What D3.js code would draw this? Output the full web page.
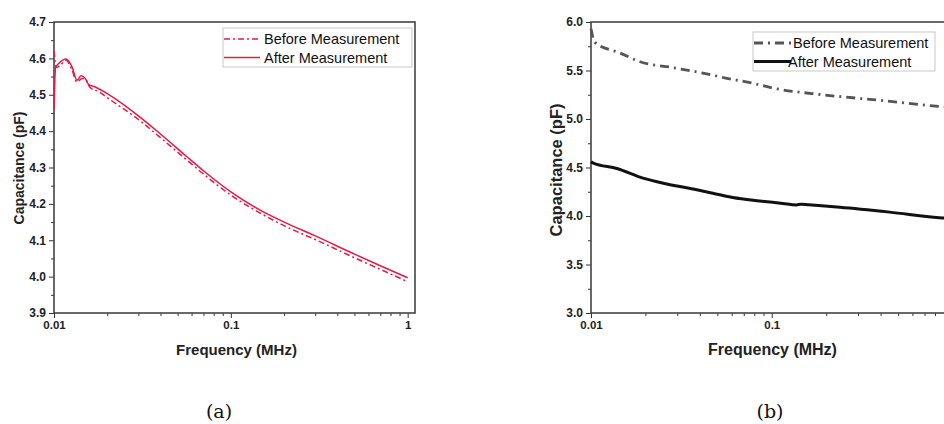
<!DOCTYPE html>
<html>
<head>
<meta charset="utf-8">
<script src="https://cdn.jsdelivr.net/npm/d3@7"></script>
<style>
  body { margin: 0; background: #fff; }
  svg { display: block; }
</style>
</head>
<body>
<div id="container"></div>
<script>
let w = 944;
let h = 424;

// DATA - panel (a)
let freqBeforeA = [0.01, 0.0103, 0.0108, 0.0117, 0.0126, 0.0135, 0.0144, 0.0152, 0.016, 0.018, 0.02, 0.03, 0.04, 0.056, 0.07, 0.1, 0.15, 0.2, 0.3, 0.5, 0.7, 1.0];
let capBeforeA  = [4.62, 4.575, 4.58, 4.595, 4.57, 4.535, 4.545, 4.54, 4.52, 4.508, 4.492, 4.432, 4.382, 4.322, 4.282, 4.224, 4.172, 4.14, 4.102, 4.052, 4.02, 3.986];
let freqAfterA  = [0.01, 0.0102, 0.0106, 0.0117, 0.0126, 0.0135, 0.0142, 0.015, 0.0157, 0.017, 0.02, 0.03, 0.04, 0.056, 0.07, 0.1, 0.15, 0.2, 0.3, 0.5, 0.7, 1.0];
let capAfterA   = [4.46, 4.575, 4.585, 4.598, 4.578, 4.54, 4.552, 4.545, 4.528, 4.522, 4.503, 4.442, 4.392, 4.331, 4.291, 4.233, 4.18, 4.15, 4.112, 4.062, 4.03, 3.997];

// DATA - panel (b)
let freqBeforeB = [0.01, 0.0105, 0.0145, 0.0187, 0.0284, 0.04, 0.0564, 0.0781, 0.101, 0.191, 0.361, 0.847, 1.0];
let capBeforeB  = [5.93, 5.79, 5.68, 5.59, 5.53, 5.48, 5.42, 5.37, 5.32, 5.25, 5.20, 5.13, 5.12];
let freqAfterB  = [0.01, 0.0103, 0.0139, 0.0194, 0.0263, 0.0385, 0.0472, 0.0609, 0.0858, 0.115, 0.137, 0.145, 0.16, 0.238, 0.449, 0.88, 1.0];
let capAfterB   = [4.56, 4.545, 4.49, 4.39, 4.33, 4.27, 4.235, 4.19, 4.155, 4.13, 4.114, 4.122, 4.115, 4.09, 4.04, 3.98, 3.975];

let yTicksA = [3.9, 4.0, 4.1, 4.2, 4.3, 4.4, 4.5, 4.6, 4.7];
let yTicksB = [3.0, 3.5, 4.0, 4.5, 5.0, 5.5, 6.0];
let xTicksA = [0.01, 0.1, 1];
let xTicksB = [0.01, 0.1];
let seriesNames = ["Before Measurement", "After Measurement"];

let viz = d3.select("#container").append("svg")
    .attr("width", w)
    .attr("height", h)
    .style("font-family", "'Liberation Sans', Arial, sans-serif");

function makeSeries(fs, cs) {
  return fs.map(function(f, i) { return {f: f, c: cs[i]}; });
}

function drawPanel(p) {
  let x = d3.scaleLog().domain([0.01, 1.1]).range([p.left, p.right]);
  let y = d3.scaleLinear().domain(p.yDomain).range([p.bottom, p.top]);
  let g = viz.append("g");

  // minor x ticks
  let minorX = [];
  [0.01, 0.1].forEach(function(d) {
    for (let k = 2; k <= 9; k++) minorX.push(d * k);
  });
  g.append("g")
    .attr("transform", "translate(0," + p.bottom + ")")
    .call(d3.axisBottom(x).tickValues(minorX).tickSize(3).tickFormat(""))
    .call(function(a) { a.select(".domain").remove(); a.selectAll("line").attr("stroke", "#333"); });

  let xAxis = g.append("g")
    .attr("transform", "translate(0," + p.bottom + ")")
    .call(d3.axisBottom(x).tickValues(p.xTicks).tickSize(5).tickPadding(3)
      .tickFormat(function(d) { return d3.format("")(d); }));
  xAxis.select(".domain").remove();
  xAxis.selectAll("line").attr("stroke", "#333");
  xAxis.selectAll("text").attr("font-size", 11.5).attr("font-weight", "bold")
    .attr("fill", "#222").attr("font-family", "'Liberation Sans', Arial, sans-serif");

  // minor y ticks
  let minorY = [];
  for (let i = 0; i < p.yTicks.length - 1; i++) minorY.push((p.yTicks[i] + p.yTicks[i + 1]) / 2);
  g.append("g")
    .attr("transform", "translate(" + p.left + ",0)")
    .call(d3.axisLeft(y).tickValues(minorY).tickSize(3).tickFormat(""))
    .call(function(a) { a.select(".domain").remove(); a.selectAll("line").attr("stroke", "#333"); });

  let yAxis = g.append("g")
    .attr("transform", "translate(" + p.left + ",0)")
    .call(d3.axisLeft(y).tickValues(p.yTicks).tickSize(5).tickPadding(3).tickFormat(d3.format(".1f")));
  yAxis.select(".domain").remove();
  yAxis.selectAll("line").attr("stroke", "#333");
  yAxis.selectAll("text").attr("font-size", 12).attr("font-weight", "bold")
    .attr("fill", "#222").attr("font-family", "'Liberation Sans', Arial, sans-serif");

  // frame
  g.append("rect")
    .attr("x", p.left).attr("y", p.top)
    .attr("width", p.right - p.left).attr("height", p.bottom - p.top)
    .attr("fill", "none").attr("stroke", "#444").attr("stroke-width", 1.6);

  let line = d3.line()
    .x(function(d) { return x(d.f); })
    .y(function(d) { return y(d.c); })
    .curve(d3.curveMonotoneX);

  g.append("path").datum(makeSeries(p.fBefore, p.cBefore))
    .attr("d", line).attr("fill", "none")
    .attr("stroke", p.beforeColor).attr("stroke-width", p.beforeWidth)
    .attr("stroke-dasharray", p.dash);
  g.append("path").datum(makeSeries(p.fAfter, p.cAfter))
    .attr("d", line).attr("fill", "none")
    .attr("stroke", p.afterColor).attr("stroke-width", p.afterWidth);

  // legend
  let lg = g.append("g");
  lg.append("rect")
    .attr("x", p.legX).attr("y", p.legY).attr("width", p.legW).attr("height", p.legH)
    .attr("fill", "#fff").attr("stroke", "#bbb").attr("stroke-width", 0.8);
  seriesNames.forEach(function(name, i) {
    let yy = p.legY + 11 + i * 18.5;
    lg.append("line")
      .attr("x1", p.legX + 1).attr("x2", p.legX + p.sampleLen)
      .attr("y1", yy).attr("y2", yy)
      .attr("stroke", i == 0 ? p.beforeColor : p.afterColor)
      .attr("stroke-width", i == 0 ? p.beforeWidth : p.afterWidth)
      .attr("stroke-dasharray", i == 0 ? p.dash : null);
    lg.append("text")
      .attr("x", p.legX + p.textOff[i]).attr("y", yy)
      .attr("dy", "0.35em")
      .attr("font-size", 14.5)
      .attr("fill", "#111")
      .text(name);
  });

  // axis titles
  g.append("text")
    .attr("x", (p.left + p.right) / 2 + p.xTitleShift).attr("y", p.bottom + 42)
    .attr("text-anchor", "middle").attr("font-weight", "bold")
    .attr("font-size", p.titleFont).attr("fill", "#222")
    .text("Frequency (MHz)");
  g.append("text")
    .attr("transform", "translate(" + p.yTitleX + "," + p.yTitleY + ") rotate(-90)")
    .attr("text-anchor", "middle").attr("dy", "0.35em").attr("font-weight", "bold")
    .attr("font-size", p.yTitleFont).attr("fill", "#222")
    .text("Capacitance (pF)");

  g.append("text")
    .attr("x", p.capX).attr("y", 411)
    .attr("text-anchor", "middle").attr("dy", "0.35em")
    .attr("font-family", "'DejaVu Serif', 'Liberation Serif', serif")
    .attr("font-size", 19).attr("fill", "#111")
    .text(p.caption);
}

drawPanel({
  left: 54, right: 415, top: 22, bottom: 313,
  yDomain: [3.9, 4.7], yTicks: yTicksA, xTicks: xTicksA,
  fBefore: freqBeforeA, cBefore: capBeforeA, fAfter: freqAfterA, cAfter: capAfterA,
  beforeColor: "#e31b46", afterColor: "#e31b46", beforeWidth: 1.5, afterWidth: 1.5,
  dash: "6,3,2,3",
  legX: 223, legY: 28, legW: 189, legH: 39, sampleLen: 37, textOff: [41, 41],
  titleFont: 15, yTitleFont: 14, xTitleShift: 2,
  yTitleX: 19, yTitleY: 168, capX: 219, caption: "(a)"
});

drawPanel({
  left: 591, right: 960, top: 22, bottom: 313,
  yDomain: [3.0, 6.0], yTicks: yTicksB, xTicks: xTicksB,
  fBefore: freqBeforeB, cBefore: capBeforeB, fAfter: freqAfterB, cAfter: capAfterB,
  beforeColor: "#555", afterColor: "#111", beforeWidth: 2.8, afterWidth: 3,
  dash: "9,5,2,5",
  legX: 753, legY: 32, legW: 182, legH: 39, sampleLen: 38, textOff: [40, 35],
  titleFont: 16, yTitleFont: 16.5, xTitleShift: -3,
  yTitleX: 556, yTitleY: 170, capX: 770, caption: "(b)"
});
</script>
</body>
</html>
